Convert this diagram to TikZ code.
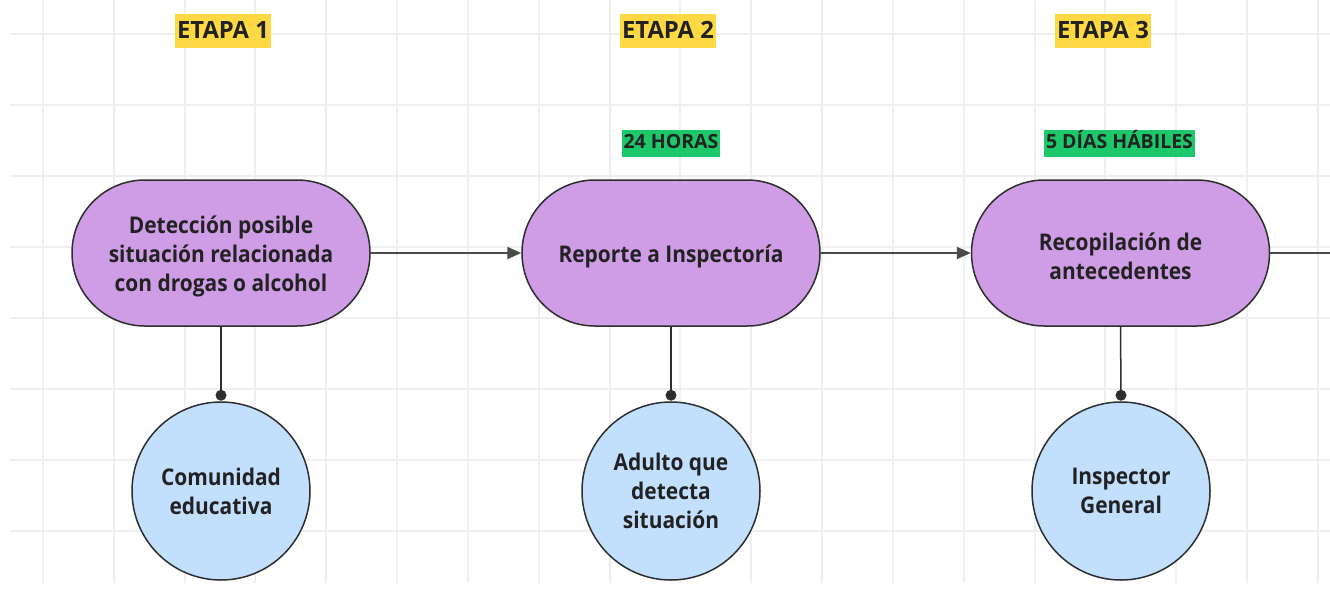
\documentclass[tikz,border=0pt]{standalone}
\usepackage{fontspec}
\setmainfont{Open Sans}
\newfontfamily\bodyfont{Open Sans}[FakeStretch=0.91]
\newcommand{\tstrut}{\rule{0pt}{24pt}}
\usetikzlibrary{arrows.meta}
\definecolor{pillfill}{HTML}{CF9DE6}
\definecolor{circfill}{HTML}{C2DFFE}
\definecolor{ylw}{HTML}{FFD944}
\definecolor{grn}{HTML}{1DC86A}
\definecolor{txt}{HTML}{222222}
\definecolor{edge}{HTML}{2E2E2E}
\definecolor{gridc}{HTML}{EFEFEF}
\definecolor{conn}{HTML}{4A4A4A}
\tikzset{
  pill/.style={draw=edge, line width=1.5pt, fill=pillfill, rounded corners=72.9pt,
    minimum width=298pt, minimum height=146pt, align=center, text=txt,
    font=\bodyfont\bfseries\fontsize{23}{29}\selectfont},
  actor/.style={circle, draw=edge, line width=1.5pt, fill=circfill, minimum size=178pt,
    align=center, text=txt, font=\bodyfont\bfseries\fontsize{23}{29}\selectfont, inner sep=0pt},
  stagelbl/.style={fill=ylw, text=txt, inner xsep=2.5pt, text height=18pt, text depth=4pt,
    inner ysep=6pt, font=\bfseries\fontsize{23.8}{26}\selectfont},
  timelbl/.style={fill=grn, text=txt, inner xsep=2pt, text height=14pt, text depth=3pt,
    inner ysep=5pt, font=\bfseries\fontsize{19.5}{22}\selectfont},
  flow/.style={draw=conn, line width=2pt, -{Triangle[length=14pt,width=12pt]}},
  plainflow/.style={draw=conn, line width=2pt},
  link/.style={draw=edge, line width=1.5pt},
  knob/.style={fill=edge, draw=none},
}
\begin{document}
\begin{tikzpicture}[x=1pt, y=-1pt]
\useasboundingbox (0,0) rectangle (1330,592);
\fill[white] (0,0) rectangle (1330,592);
% grid
\foreach \i in {0,...,18} {
  \draw[gridc, line width=2pt] ({43+70.83*\i},0) -- ({43+70.83*\i},583);
}
\foreach \j in {0,...,7} {
  \draw[gridc, line width=2pt] (10,{34+71*\j}) -- (1330,{34+71*\j});
}
% stage labels
\node[stagelbl] (e1) at (223,31) {ETAPA 1};
\node[stagelbl] (e2) at (668,31) {ETAPA 2};
\node[stagelbl] (e3) at (1103,31) {ETAPA 3};
\node[timelbl] (t2) at (671,143) {24 HORAS};
\node[timelbl] (t3) at (1119.5,143) {5 DÍAS HÁBILES};
% pills
\node[pill] (p1) at (221,253) {\tstrut Detección posible\\situación relacionada\\con drogas o alcohol};
\node[pill] (p2) at (671,253) {\tstrut Reporte a Inspectoría};
\node[pill] (p3) at (1120.5,253) {\tstrut Recopilación de\\antecedentes};
% actors
\node[actor] (c1) at (221,491) {Comunidad\\educativa};
\node[actor] (c2) at (671,491) {Adulto que\\detecta\\situación};
\node[actor] (c3) at (1121,491) {Inspector\\General};
% flow
\coordinate (out) at (1330,253);
\draw[flow] (p1.east) -- (p2.west);
\draw[flow] (p2.east) -- (p3.west);
\draw[plainflow] (p3.east) -- (out);
% links
\foreach \p/\c in {p1/c1, p2/c2, p3/c3} {
  \draw[link] (\p.south) -- ([yshift=6pt]\c.north);
  \fill[knob] ([yshift=6pt]\c.north) circle (5.5pt);
}
\end{tikzpicture}
\end{document}
